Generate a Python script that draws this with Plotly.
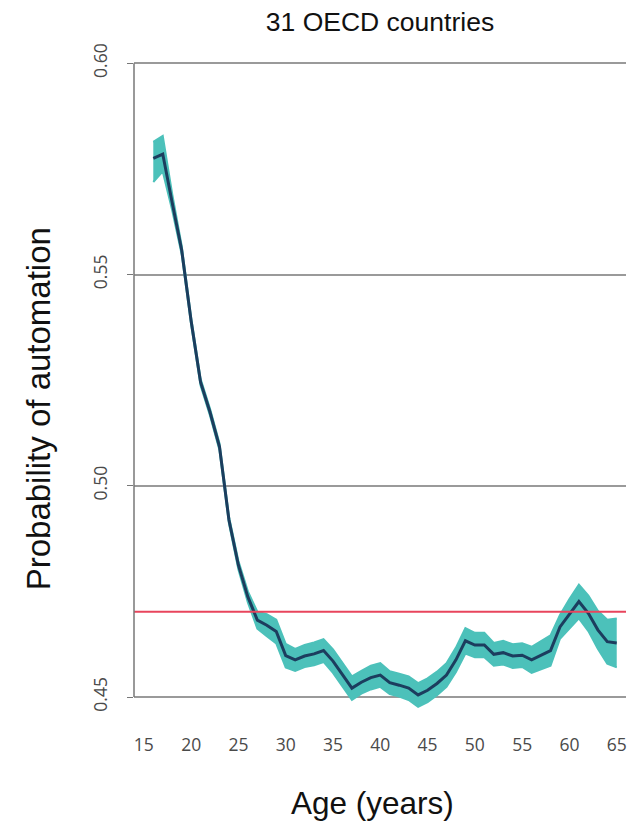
import plotly.graph_objects as go

ages = list(range(16, 66))
mean_prob = [0.5775, 0.5785, 0.5670, 0.5558, 0.5390, 0.5245, 0.5174, 0.5092, 0.4919, 0.4812,
             0.4737, 0.4682, 0.4670, 0.4655, 0.4598, 0.4588, 0.4597, 0.4602, 0.4610, 0.4585,
             0.4553, 0.4521, 0.4535, 0.4546, 0.4552, 0.4534, 0.4528, 0.4521, 0.4505, 0.4516,
             0.4532, 0.4552, 0.4588, 0.4633, 0.4623, 0.4623, 0.4601, 0.4605, 0.4597, 0.4599,
             0.4588, 0.4599, 0.4610, 0.4666, 0.4697, 0.4726, 0.4698, 0.4659, 0.4631, 0.4628]
upper_ci = [0.5814, 0.5828, 0.5690, 0.5568, 0.5398, 0.5253, 0.5182, 0.5100, 0.4927, 0.4822,
            0.4750, 0.4702, 0.4696, 0.4683, 0.4626, 0.4614, 0.4623, 0.4629, 0.4637, 0.4613,
            0.4581, 0.4549, 0.4562, 0.4574, 0.4580, 0.4561, 0.4555, 0.4549, 0.4533, 0.4544,
            0.4560, 0.4580, 0.4617, 0.4663, 0.4652, 0.4652, 0.4628, 0.4633, 0.4625, 0.4627,
            0.4619, 0.4632, 0.4646, 0.4694, 0.4732, 0.4766, 0.4740, 0.4704, 0.4683, 0.4686]
lower_ci = [0.5719, 0.5744, 0.5652, 0.5548, 0.5382, 0.5237, 0.5166, 0.5084, 0.4911, 0.4802,
            0.4724, 0.4662, 0.4644, 0.4627, 0.4570, 0.4562, 0.4571, 0.4575, 0.4583, 0.4557,
            0.4525, 0.4493, 0.4508, 0.4518, 0.4524, 0.4507, 0.4501, 0.4493, 0.4477, 0.4488,
            0.4504, 0.4524, 0.4559, 0.4603, 0.4594, 0.4594, 0.4574, 0.4577, 0.4569, 0.4571,
            0.4557, 0.4566, 0.4574, 0.4638, 0.4662, 0.4686, 0.4656, 0.4614, 0.4579, 0.4570]
overall_avg = 0.4702

x_ticks = [15, 20, 25, 30, 35, 40, 45, 50, 55, 60, 65]
y_ticks = [0.45, 0.50, 0.55, 0.60]

TEAL = "#4cc1ba"
NAVY = "#1c3d5e"
RED = "#e8455c"
GRID = "#9a9a9a"

fig = go.Figure()
fig.add_trace(go.Scatter(x=ages, y=upper_ci, mode="lines",
                         line=dict(color=TEAL, width=2), showlegend=False, hoverinfo="skip"))
fig.add_trace(go.Scatter(x=ages, y=lower_ci, mode="lines", fill="tonexty", fillcolor=TEAL,
                         line=dict(color=TEAL, width=2), showlegend=False, hoverinfo="skip"))
fig.add_trace(go.Scatter(x=ages, y=mean_prob, mode="lines",
                         line=dict(color=NAVY, width=3), showlegend=False))
fig.add_hline(y=overall_avg, line=dict(color=RED, width=2))

# y axis line spanning first to last tick
fig.add_shape(type="line", xref="paper", yref="y", x0=0, x1=0, y0=y_ticks[0], y1=y_ticks[-1],
              line=dict(color="#777777", width=1.5))

fig.update_layout(
    width=628, height=824,
    margin=dict(l=134, r=2, t=40, b=104),
    plot_bgcolor="white", paper_bgcolor="white",
    showlegend=False,
    title=dict(text="31 OECD countries", x=0.5, xref="paper", xanchor="center",
               y=1 - 22 / 824, yanchor="middle", yref="container",
               font=dict(family="Liberation Sans", size=26.5, color="#111111")),
    xaxis=dict(range=[13.96, 65.98], tickvals=x_ticks, showgrid=False, zeroline=False,
               showline=False, ticks="", ticklabelstandoff=12,
               tickfont=dict(family="Open Sans", size=17.5, color="#4a4a4a")),
    yaxis=dict(range=[0.44456, 0.6055], tickvals=y_ticks, tickformat=".2f",
               showgrid=True, gridcolor=GRID, gridwidth=1.5, zeroline=False,
               showline=False, ticks="outside", ticklen=6, tickcolor="#777777",
               tickangle=-90, ticklabelstandoff=13,
               tickfont=dict(family="Open Sans", size=17.5, color="#4a4a4a")),
    annotations=[
        dict(text="Probability of automation", xref="paper", yref="paper",
             x=-0.195, y=0.457, xanchor="center", yanchor="middle", textangle=-90,
             showarrow=False, font=dict(family="Liberation Sans", size=33, color="#111111")),
        dict(text="Age (years)", xref="paper", yref="paper",
             x=0.484, y=-0.122, xanchor="center", yanchor="middle",
             showarrow=False, font=dict(family="Liberation Sans", size=31.5, color="#111111")),
    ],
)

fig.write_html("out.html", config={"displayModeBar": False},
               post_script="document.body.style.margin='0';document.body.style.overflow='hidden';")
